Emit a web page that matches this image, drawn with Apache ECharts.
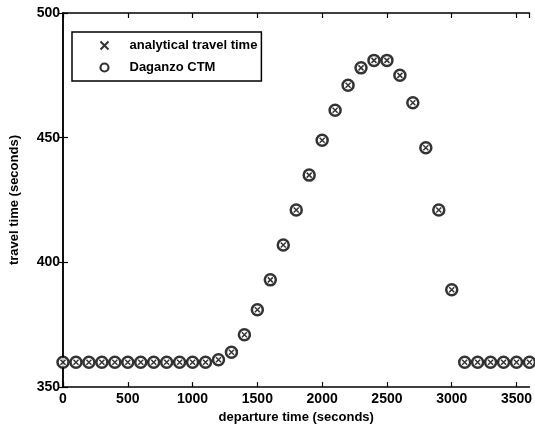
<!DOCTYPE html>
<html><head><meta charset="utf-8">
<script src="https://cdn.jsdelivr.net/npm/echarts@6/dist/echarts.min.js"></script>
<style>html,body{margin:0;padding:0;background:#fff}#c{width:535px;height:429px}</style>
</head><body><div id="c"></div>
<script>
const departureTimes = [0,100,200,300,400,500,600,700,800,900,1000,1100,1200,1300,1400,1500,1600,1700,1800,1900,2000,2100,2200,2300,2400,2500,2600,2700,2800,2900,3000,3100,3200,3300,3400,3500,3600];
const analyticalTravelTime = [360,360,360,360,360,360,360,360,360,360,360,360,361,364,371,381,393,407,421,435,449,461,471,478,481,481,475,464,446,421,389,360,360,360,360,360,360];
const ctmTravelTime = [360,360,360,360,360,360,360,360,360,360,360,360,361,364,371,381,393,407,421,435,449,461,471,478,481,481,475,464,446,421,389,360,360,360,360,360,360];
const xTicks = [0,500,1000,1500,2000,2500,3000,3500];
const yTicks = [350,400,450,500];

const crossPath = 'path://M0,0L10,10M10,0L0,10';
const font = 'Liberation Sans, Arial, sans-serif';
const chart = echarts.init(document.getElementById('c'));
const axisCommon = {
  axisLine:{show:true,lineStyle:{color:'#000',width:1.5}},
  axisTick:{show:true,inside:true,length:5,lineStyle:{color:'#000',width:1.2}},
  splitLine:{show:false}
};
chart.setOption({
  animation:false,
  backgroundColor:'#fff',
  grid:{left:60,top:13,width:474,height:375},
  legend:{
    orient:'vertical', left:72, top:32,
    borderColor:'#000', borderWidth:1.5, backgroundColor:'#fff',
    padding:[7,4,7,26], itemGap:9, itemWidth:8, itemHeight:8,
    textStyle:{fontFamily:font,fontSize:13,fontWeight:'bold',color:'#000',padding:[0,0,0,16]},
    data:[
      {name:'analytical travel time', icon:crossPath, itemStyle:{color:'none',borderColor:'#000',borderWidth:2}},
      {name:'Daganzo CTM', icon:'circle', itemStyle:{color:'#fff',borderColor:'#000',borderWidth:2.2}}
    ]
  },
  xAxis:[
    Object.assign({type:'value',min:0,max:3600,interval:500,position:'bottom',
      name:'departure time (seconds)',nameLocation:'middle',nameGap:21,
      nameTextStyle:{fontFamily:font,fontSize:13,fontWeight:'bold',color:'#000'},
      axisLabel:{fontFamily:font,fontSize:14,fontWeight:'bold',color:'#000',margin:5,showMaxLabel:false,
        formatter:v=>xTicks.includes(v)?String(v):''}},axisCommon),
    Object.assign({type:'value',min:0,max:3600,interval:500,position:'top',axisLabel:{show:false}},axisCommon)
  ],
  yAxis:[
    Object.assign({type:'value',min:350,max:500,interval:50,position:'left',
      name:'travel time (seconds)',nameLocation:'middle',nameGap:42,
      nameTextStyle:{fontFamily:font,fontSize:13,fontWeight:'bold',color:'#000'},
      axisLabel:{fontFamily:font,fontSize:14,fontWeight:'bold',color:'#000',margin:3,
        formatter:v=>yTicks.includes(v)?String(v):''}},axisCommon),
    Object.assign({type:'value',min:350,max:500,interval:50,position:'right',axisLabel:{show:false}},axisCommon)
  ],
  series:[
    {name:'Daganzo CTM',type:'scatter',symbol:'circle',symbolSize:11,z:2,
      itemStyle:{color:'#fff',borderColor:'#000',borderWidth:2.5},
      data:departureTimes.map((t,i)=>[t,ctmTravelTime[i]])},
    {name:'analytical travel time',type:'scatter',symbol:crossPath,symbolSize:5,z:3,
      itemStyle:{color:'none',borderColor:'#000',borderWidth:1.5},
      data:departureTimes.map((t,i)=>[t,analyticalTravelTime[i]])}
  ]
});
</script></body></html>
